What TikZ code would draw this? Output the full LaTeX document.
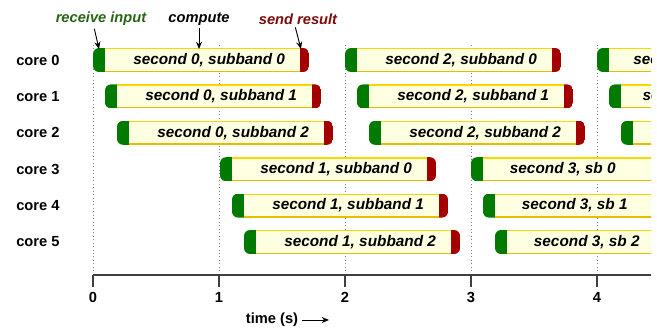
\documentclass[tikz,border=0pt]{standalone}
\usepackage{fontspec}
\setmainfont{Liberation Sans}
\usetikzlibrary{arrows.meta}

\definecolor{rcvgreen}{RGB}{0,122,0}
\definecolor{sndred}{RGB}{165,0,0}
\definecolor{barfill}{RGB}{255,255,226}
\definecolor{rimtop}{RGB}{246,216,0}
\definecolor{rimbot}{RGB}{228,190,0}
\definecolor{lblgreen}{RGB}{40,100,20}
\definecolor{lblred}{RGB}{125,10,10}

\tikzset{
  taskbar/.style={anchor=west, fill=barfill, rounded corners=4.5pt,
    minimum width=162pt, minimum height=18pt, inner sep=0pt, outer sep=0pt,
    path picture={
      \fill[rcvgreen, sharp corners] (path picture bounding box.south west)
        rectangle ([xshift=9pt]path picture bounding box.north west);
      \fill[sndred, sharp corners] ([xshift=-6.75pt]path picture bounding box.south east)
        rectangle (path picture bounding box.north east);
    }},
  bartext/.style={anchor=west, inner sep=0pt, font=\fontsize{11.5}{13}\selectfont\bfseries\itshape},
  corelabel/.style={anchor=west, inner sep=0pt, font=\fontsize{11}{13}\selectfont\bfseries},
  ticklabel/.style={inner sep=0pt, font=\fontsize{11}{13}\selectfont\bfseries},
  phaselabel/.style={inner sep=0pt, font=\fontsize{11}{13}\selectfont\bfseries\itshape},
  guide/.style={gray, dotted, line width=0.6pt},
  pointer/.style={-{Stealth[length=5.5pt,width=4.5pt]}, line width=0.7pt},
}

% #1 name, #2 start x, #3 row y, #4 text, #5 text offset
\newcommand\taskbar[5]{%
  \node[taskbar] (#1) at (#2,#3) {};
  \draw[rimtop, line width=1.1pt] ([xshift=9pt,yshift=-0.55pt]#1.north west) -- ([xshift=-6.75pt,yshift=-0.55pt]#1.north east);
  \draw[rimbot, line width=1.1pt] ([xshift=9pt,yshift=0.55pt]#1.south west) -- ([xshift=-6.75pt,yshift=0.55pt]#1.south east);
  \node[bartext] (#1t) at ([xshift=#5]#1.west) {#4};
}
% bar without visible text
\newcommand\emptybar[3]{%
  \node[taskbar] (#1) at (#2,#3) {};
  \draw[rimtop, line width=1.1pt] ([xshift=9pt,yshift=-0.55pt]#1.north west) -- ([xshift=-6.75pt,yshift=-0.55pt]#1.north east);
  \draw[rimbot, line width=1.1pt] ([xshift=9pt,yshift=0.55pt]#1.south west) -- ([xshift=-6.75pt,yshift=0.55pt]#1.south east);
}

\begin{document}
\begin{tikzpicture}[x=0.75pt, y=-0.75pt]
  \useasboundingbox (0,0) rectangle (657,335);

  % core labels
  \foreach \c/\y in {0/60, 1/96.4, 2/132.8, 3/169.2, 4/205.6, 5/242}
    \node[corelabel] (core\c) at (16,\y) {core \c};

  \begin{scope}
    \clip (0,0) rectangle (651,335);

    % second grid
    \foreach \t/\x in {0/93, 1/219, 2/345, 3/471, 4/597}
      \draw[guide] (\x,45) -- (\x,275);

    % seconds 0, 2, 4 on cores 0-2
    \taskbar{b00}{93}{60}{second 0, subband 0}{30pt}
    \taskbar{b01}{105}{96.4}{second 0, subband 1}{30pt}
    \taskbar{b02}{117}{132.8}{second 0, subband 2}{30pt}
    \taskbar{b20}{345}{60}{second 2, subband 0}{30pt}
    \taskbar{b21}{357}{96.4}{second 2, subband 1}{30pt}
    \taskbar{b22}{369}{132.8}{second 2, subband 2}{30pt}
    \taskbar{b40}{597}{60}{second 4, sb 0}{27pt}
    \taskbar{b41}{609}{96.4}{second 4, sb 1}{25pt}
    \emptybar{b42}{621}{132.8}

    % seconds 1, 3 on cores 3-5
    \taskbar{b10}{220}{169.2}{second 1, subband 0}{30pt}
    \taskbar{b11}{232}{205.6}{second 1, subband 1}{30pt}
    \taskbar{b12}{244}{242}{second 1, subband 2}{30pt}
    \taskbar{b30}{471}{169.2}{second 3, sb 0}{29pt}
    \taskbar{b31}{483}{205.6}{second 3, sb 1}{29pt}
    \taskbar{b32}{495}{242}{second 3, sb 2}{29pt}

    % time axis
    \draw[line width=0.8pt, black!75] (93,275) -- (651,275);
    \foreach \t/\x in {0/93, 1/219, 2/345, 3/471, 4/597} {
      \draw[line width=0.8pt, black!75] (\x,275) -- (\x,287);
      \node[ticklabel] (tick\t) at (\x,297) {\t};
    }
  \end{scope}

  % axis title
  \node[ticklabel] (tlabel) at (272,320) {time (s)};
  \coordinate (tend) at (329,320);
  \draw[pointer] ([xshift=3pt]tlabel.east) -- (tend);

  % phase labels
  \node[phaselabel, text=lblgreen] (recv) at (101,19) {receive input};
  \node[phaselabel] (comp) at (199,19) {compute};
  \node[phaselabel, text=lblred] (send) at (298,19) {send result};
  \draw[pointer] ([xshift=-5pt,yshift=-2pt]recv.south) -- ([xshift=4.5pt,yshift=-0.8pt]b00.north west);
  \draw[pointer] ([yshift=-2pt]comp.south) -- ([xshift=-1.5pt,yshift=-0.8pt]b00.north);
  \draw[pointer] ([xshift=-2pt,yshift=-2pt]send.south) -- ([xshift=-6pt,yshift=-0.8pt]b00.north east);
\end{tikzpicture}
\end{document}
